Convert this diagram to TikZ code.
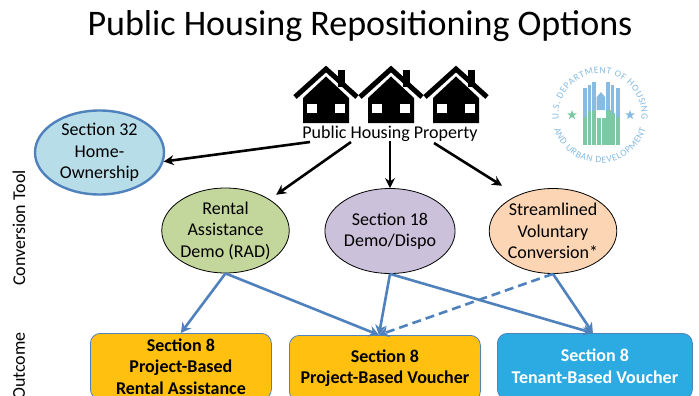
\documentclass[tikz,border=0pt]{standalone}
\usepackage{fontspec}
\setmainfont{Carlito}
\usetikzlibrary{shapes.geometric,arrows.meta,decorations.text}
\definecolor{arrowblue}{HTML}{4F81BD}
\definecolor{boxgold}{HTML}{FFC010}
\definecolor{boxblue}{HTML}{2CABE2}
\definecolor{lightblue}{HTML}{B7DDE8}
\definecolor{ringblue}{HTML}{4F81BD}
\definecolor{radgreen}{HTML}{C3D69B}
\definecolor{lilac}{HTML}{CCC1DA}
\definecolor{peach}{HTML}{FCD5B5}
\definecolor{sealblue}{HTML}{86BCE3}
\definecolor{sealgreen}{HTML}{7CC8A5}
\tikzset{
  tool/.style={ellipse,draw=black,line width=0.8pt,minimum width=126pt,minimum height=85pt,inner sep=0pt,align=center,font=\fontsize{18}{21.5}\selectfont},
  outcome/.style={rounded corners=10pt,draw=arrowblue,line width=0.8pt,minimum height=66pt,anchor=north west,inner sep=0pt,align=center,font=\fontsize{18}{21.5}\selectfont\bfseries},
  blackarrow/.style={-{Stealth[length=10pt,width=10pt]},line width=2.6pt,black},
  bluearrow/.style={-{Stealth[length=10pt,width=11pt]},line width=2.6pt,arrowblue},
  sidelabel/.style={rotate=90,font=\fontsize{18}{20}\selectfont,inner sep=0pt},
  house/.pic={
    \draw[line width=5pt,black,line join=miter] (-31,30) -- (0,2) -- (31,30);
    \fill[black] (12,3) rectangle (19,20);
    \fill[black] (-23,31) -- (0,9.5) -- (23,31) -- (23,56) -- (-23,56) -- cycle;
    \fill[white] (-19,37) rectangle (-9,46);
    \fill[white] (9,37) rectangle (19,46);
  }
}
\begin{document}
\begin{tikzpicture}[x=1pt,y=-1pt]
\useasboundingbox (0,0) rectangle (699,396);
\fill[white] (0,0) rectangle (699,396);
\node[font=\fontsize{36}{40}\selectfont,inner sep=0pt] (title) at (360,26) {Public Housing Repositioning Options};
\pic at (326,67) {house};
\pic at (391,67) {house};
\pic at (456,67) {house};
\node[font=\fontsize{18}{20}\selectfont,inner sep=1pt] (prop) at (390,134) {Public Housing Property};
% seal
\begin{scope}[shift={(600,115)}]
  \foreach \xa/\xb/\yt in {-17.3/-13.3/-27,-12.3/-9/-30,-8.3/-4/-33,6/10/-33,11/14.3/-30,15.7/20/-27}
    \fill[sealblue] (\xa,\yt) rectangle (\xb,2);
  \fill[sealblue] (-3.3,-5) -- (-3.3,-18) -- (1,-23) -- (5,-18) -- (5,-5) -- cycle;
  \foreach \xa/\xb/\yt in {-17.3/-13.3/2,-12.3/-9/-4,-8.3/-4/-4,-3.3/1/3,1.7/5.7/3,6/10.7/-5,11/15/-2,15.7/20/2}
    \fill[sealgreen] (\xa,\yt) rectangle (\xb,30);
  \node[star,star points=5,star point ratio=2.4,fill=sealgreen,inner sep=0pt,minimum size=10pt] (stargreen) at (-28,0) {};
  \node[star,star points=5,star point ratio=2.4,fill=sealblue,inner sep=0pt,minimum size=10pt] (starblue) at (30,0) {};
  \begin{scope}[x=1pt,y=1pt]
    \path[decorate,decoration={text along path,text align={fit to path},text={|\fontsize{9.5}{10}\selectfont\color{sealblue}|U.S. DEPARTMENT OF HOUSING}}]
      (186:41.5) arc[start angle=186,end angle=-6,radius=41.5];
    \path[decorate,decoration={text along path,text align={fit to path},text={|\fontsize{9.5}{10}\selectfont\color{sealblue}|AND URBAN DEVELOPMENT}}]
      (197:48) arc[start angle=197,end angle=343,radius=48];
  \end{scope}
\end{scope}
% ellipses
\node[ellipse,draw=ringblue,fill=lightblue,line width=2.4pt,minimum width=129pt,minimum height=84pt,inner sep=0pt,align=center,font=\fontsize{18}{21.5}\selectfont] (sec32) at (99.5,152.5) {Section 32\\Home-\\Ownership};
\node[tool,fill=radgreen] (rad) at (225.5,230.5) {Rental\\Assistance\\Demo (RAD)};
\node[tool,fill=lilac] (sec18) at (390,231) {Section 18\\Demo/Dispo};
\node[tool,fill=peach] (svc) at (553,231) {Streamlined\\Voluntary\\Conversion*};
% boxes
\node[outcome,fill=boxgold,minimum width=181pt] (pbra) at (90,333) {Section 8\\Project-Based\\Rental Assistance};
\node[outcome,fill=boxgold,minimum width=191pt] (pbv) at (289,335) {Section 8\\Project-Based Voucher};
\node[outcome,fill=boxblue,text=white,minimum width=195pt] (tbv) at (497,333) {Section 8\\Tenant-Based Voucher};
% side labels
\node[sidelabel] (conv) at (19,228) {Conversion Tool};
\node[sidelabel,anchor=east] (outl) at (19,332) {Outcome};
% connectors
\draw[blackarrow] ([xshift=-80pt,yshift=1pt]prop.south) -- (sec32.-8.5);
\draw[blackarrow,shorten >=8pt] ([xshift=-39pt,yshift=1pt]prop.south) -- (rad);
\draw[blackarrow] ([yshift=2pt]prop.south) -- (sec18.north);
\draw[blackarrow,shorten >=18pt] ([xshift=44pt]prop.south) -- (svc.135);
\draw[bluearrow] (rad.south) -- (pbra.north);
\draw[bluearrow] (rad.south) -- ([xshift=-6pt]pbv.north);
\draw[bluearrow] (sec18.south) -- ([xshift=-6pt]pbv.north);
\draw[bluearrow] (sec18.south) -- ([xshift=-2pt]tbv.north);
\draw[bluearrow] (svc.south) -- ([xshift=-2pt]tbv.north);
\draw[bluearrow,dash pattern=on 9pt off 5pt] (svc.south) -- ([xshift=-6pt]pbv.north);
\end{tikzpicture}
\end{document}
